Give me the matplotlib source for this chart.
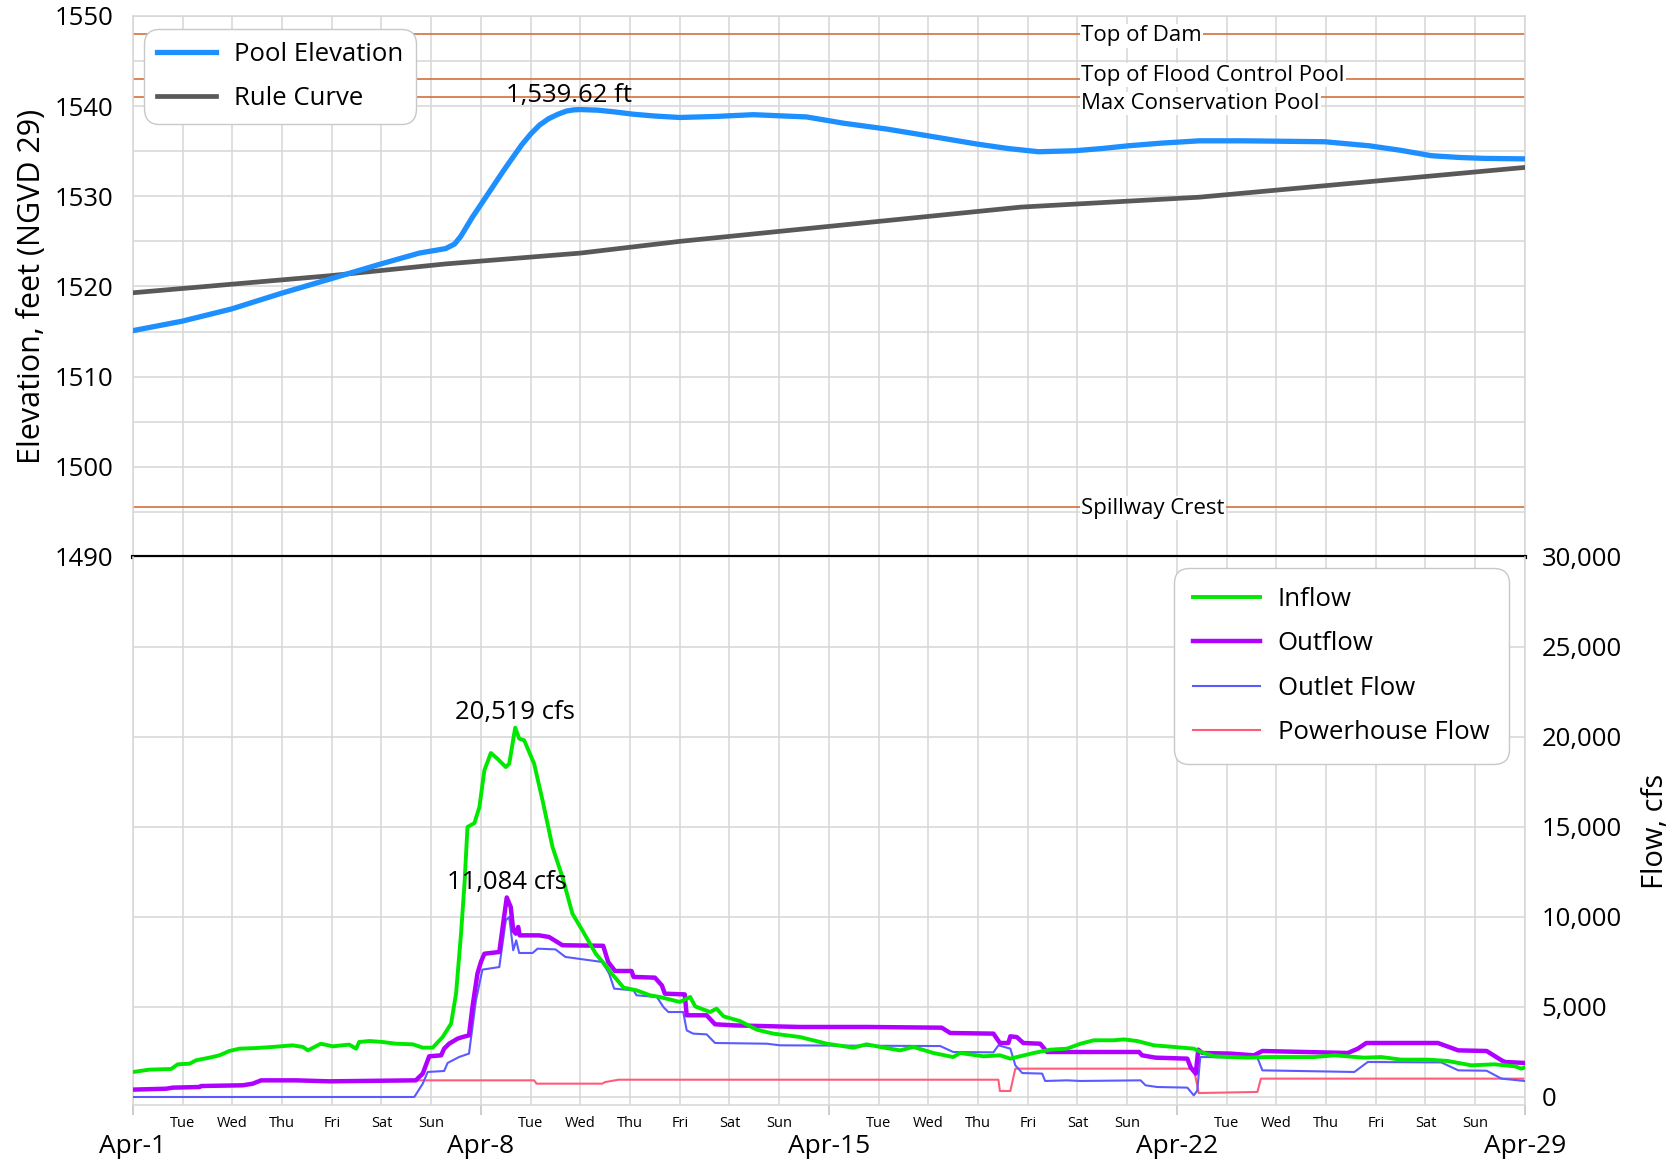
import numpy as np
import pandas as pd
import matplotlib
matplotlib.use("Agg")
import matplotlib.pyplot as plt
import matplotlib.dates as mdates
from matplotlib.ticker import FuncFormatter, MultipleLocator

plt.rcParams['font.family'] = ['Open Sans', 'DejaVu Sans']

Start = pd.Timestamp('2019-04-01')

# %% elevation data (days after Apr-1, feet NGVD 29)
PoolDays = [0, 0.99, 1.98, 2.99, 3.98, 4.99, 5.76, 6.29, 6.47, 6.6, 6.83, 7.05, 7.28, 7.45,
            7.64, 7.82, 8.0, 8.18, 8.36, 8.55, 8.72, 8.86, 9.0, 9.35, 9.7, 10.07, 10.5, 11.0,
            11.7, 12.48, 13.55, 14.3, 15.17, 16.0, 16.97, 17.6, 18.22, 18.94, 19.5, 20.02,
            20.7, 21.45, 22.35, 23.97, 24.87, 25.5, 26.12, 26.7, 27.2, 28.0]
PoolElev = [1515.1, 1516.15, 1517.5, 1519.25, 1520.85, 1522.5, 1523.7, 1524.2, 1524.7, 1525.6,
            1527.7, 1529.5, 1531.4, 1532.8, 1534.3, 1535.7, 1536.9, 1537.9, 1538.6, 1539.1,
            1539.45, 1539.58, 1539.62, 1539.55, 1539.35, 1539.1, 1538.9, 1538.74, 1538.85,
            1539.05, 1538.8, 1538.1, 1537.45, 1536.7, 1535.8, 1535.3, 1534.94, 1535.05, 1535.3,
            1535.6, 1535.9, 1536.15, 1536.15, 1536.05, 1535.6, 1535.1, 1534.5, 1534.3, 1534.2,
            1534.15]

RuleDays = [0, 3.98, 6.29, 9.0, 11.0, 17.86, 21.45, 28.0]
RuleElev = [1519.3, 1521.2, 1522.5, 1523.7, 1525.0, 1528.8, 1529.9, 1533.2]

LevelNames = ['Top of Dam', 'Top of Flood Control Pool', 'Max Conservation Pool', 'Spillway Crest']
LevelElev = [1548.0, 1543.0, 1541.0, 1495.5]

# %% flow data (days after Apr-1, cfs)
InflowDays = [0.0, 0.33, 0.77, 0.9, 1.14, 1.27, 1.54, 1.74, 1.94, 2.14, 2.48, 2.81, 3.21, 3.42,
              3.52, 3.78, 4.02, 4.35, 4.49, 4.55, 4.76, 5.02, 5.29, 5.63, 5.83, 6.03, 6.23, 6.4,
              6.5, 6.6, 6.67, 6.73, 6.87, 6.97, 7.07, 7.2, 7.33, 7.5, 7.57, 7.69, 7.77, 7.87,
              8.07, 8.24, 8.44, 8.64, 8.84, 9.04, 9.31, 9.45, 9.66, 9.87, 10.13, 10.4, 10.6,
              11.0, 11.21, 11.31, 11.61, 11.74, 11.88, 12.21, 12.55, 12.88, 13.42, 13.96, 14.49,
              14.76, 15.03, 15.43, 15.7, 16.1, 16.5, 16.64, 17.11, 17.44, 17.65, 18.12, 18.46,
              18.79, 19.06, 19.33, 19.73, 19.93, 20.2, 20.54, 20.94, 21.34, 21.48, 21.75, 22.42,
              22.82, 23.76, 24.17, 24.77, 25.11, 25.51, 26.05, 26.45, 26.92, 27.39, 27.8,
              27.93, 28.0]
Inflow = [1390, 1520, 1555, 1815, 1850, 2040, 2185, 2315, 2555, 2685, 2720, 2780, 2870, 2780,
          2590, 2960, 2815, 2910, 2685, 3055, 3110, 3055, 2960, 2925, 2740, 2740, 3330, 4075,
          5740, 9075, 11850, 15000, 15220, 16110, 18150, 19110, 18800, 18330, 18520, 20519,
          19910, 19815, 18520, 16480, 13890, 12220, 10190, 9260, 7960, 7500, 6760, 6075, 5925,
          5650, 5555, 5280, 5555, 5035, 4720, 4910, 4480, 4220, 3740, 3520, 3330, 2960, 2740,
          2925, 2780, 2590, 2780, 2445, 2220, 2445, 2260, 2315, 2130, 2445, 2630, 2685, 2960,
          3150, 3150, 3200, 3110, 2870, 2780, 2685, 2500, 2260, 2185, 2220, 2220, 2315, 2185,
          2220, 2075, 2075, 2000, 1760, 1815, 1705, 1575, 1650]

OutflowDays = [0.0, 0.67, 0.8, 1.34, 1.37, 2.21, 2.41, 2.58, 3.28, 3.95, 5.69, 5.83, 5.96, 6.2,
               6.26, 6.36, 6.53, 6.63, 6.76, 6.83, 6.93, 7.0, 7.07, 7.37, 7.42, 7.52, 7.6, 7.65,
               7.7, 7.75, 7.78, 8.17, 8.37, 8.64, 9.46, 9.56, 9.7, 10.03, 10.07, 10.5, 10.64,
               10.7, 11.1, 11.14, 11.54, 11.71, 12.08, 13.42, 14.76, 16.27, 16.44, 17.31, 17.44,
               17.61, 17.65, 17.78, 17.91, 18.25, 18.39, 19.06, 20.24, 20.3, 20.57, 21.21, 21.28,
               21.38, 21.43, 21.51, 22.08, 22.55, 22.72, 24.44, 24.64, 24.81, 26.25, 26.66,
               27.23, 27.53, 27.6, 28.0]
Outflow = [410, 460, 520, 555, 610, 650, 740, 925, 925, 870, 925, 1300, 2260, 2315, 2685, 2960,
           3240, 3330, 3425, 5000, 6850, 7500, 7960, 8055, 9075, 11084, 10555, 9260, 9075, 9445,
           8980, 8980, 8890, 8430, 8400, 7500, 7000, 7000, 6670, 6630, 6200, 5740, 5700, 4540,
           4540, 4040, 3980, 3890, 3890, 3850, 3555, 3520, 3000, 3000, 3370, 3330, 3000, 2960,
           2500, 2500, 2500, 2315, 2185, 2130, 1630, 1300, 2630, 2445, 2410, 2315, 2555, 2445,
           2685, 3000, 3000, 2590, 2555, 2040, 1945, 1890]

OutletDays = [0, 5.66, 5.83, 5.93, 6.26, 6.33, 6.56, 6.76, 6.9, 7.03, 7.37, 7.5, 7.57, 7.65,
              7.71, 7.77, 8.04, 8.14, 8.5, 8.7, 9.44, 9.58, 9.68, 10.07, 10.13, 10.54, 10.67,
              10.77, 11.07, 11.14, 11.27, 11.54, 11.71, 12.75, 13.02, 16.24, 16.5, 17.31, 17.41,
              17.65, 17.75, 17.89, 18.29, 18.35, 18.79, 19.06, 20.27, 20.37, 20.6, 21.21, 21.34,
              21.41, 21.47, 22.62, 22.72, 24.57, 24.84, 26.32, 26.66, 27.23, 27.53, 28.0]
OutletFlow = [0, 0, 740, 1390, 1445, 1890, 2220, 2410, 5370, 7075, 7220, 9815, 10000, 8150,
              8700, 8000, 8000, 8240, 8200, 7780, 7500, 6850, 6020, 5925, 5650, 5555, 5000,
              4720, 4720, 3700, 3520, 3480, 3000, 2960, 2870, 2830, 2500, 2480, 2870, 2685,
              1760, 1330, 1300, 890, 925, 890, 925, 650, 555, 520, 90, 350, 2220, 2185, 1480,
              1390, 1945, 1920, 1480, 1460, 1020, 890]

PowerDays = [0.0, 0.67, 0.8, 1.34, 1.37, 2.21, 2.41, 2.58, 3.28, 3.95, 5.69, 8.07, 8.12, 9.44,
             9.5, 9.77, 17.41, 17.44, 17.65, 17.75, 21.34, 21.44, 22.62, 22.69, 28.0]
PowerFlow = [410, 460, 520, 555, 610, 650, 740, 925, 925, 870, 925, 925, 740, 740, 830, 960,
             960, 333, 333, 1575, 1575, 220, 280, 1020, 1020]


def ToDates(days):
    return Start + pd.to_timedelta(np.array(days), unit='D')


# %%
fig = plt.figure(figsize=(16.72, 11.64), dpi=100)
ax1 = fig.add_axes([0.0795, 0.5215, 0.8325, 0.4648])
ax2 = fig.add_axes([0.0795, 0.0507, 0.8325, 0.4708], sharex=ax1)

GridColor = '#D6D6D6'
LevelColor = '#D4703C'

# top panel: elevations
for name, elev in zip(LevelNames, LevelElev):
    ax1.axhline(elev, color=LevelColor, lw=1.2, zorder=2)
rule, = ax1.plot(ToDates(RuleDays), RuleElev, color='#595959', lw=3.4, label='Rule Curve', zorder=4)
pool, = ax1.plot(ToDates(PoolDays), PoolElev, color='#1E8FFF', lw=3.8, label='Pool Elevation', zorder=5)

TextX = Start + pd.Timedelta(days=19.07)
TextY = [1547.8, 1543.45, 1540.3, 1495.4]
for name, ty in zip(LevelNames, TextY):
    ax1.text(TextX, ty, name, fontsize=16, ha='left', va='center', zorder=3,
             bbox=dict(facecolor='white', edgecolor='none', pad=1))

ax1.text(Start + pd.Timedelta(days=8.77), 1540.5, '1,539.62 ft', fontsize=18.5,
         ha='center', va='baseline', zorder=6)

ax1.set_ylim(1490, 1550)
ax1.yaxis.set_major_locator(MultipleLocator(10))
ax1.yaxis.set_minor_locator(MultipleLocator(5))
ax1.grid(which='both', color=GridColor, lw=1.1, zorder=0)
ax1.tick_params(axis='y', which='both', length=0, labelsize=18.5, pad=14)
ax1.tick_params(axis='x', which='both', length=0, labelbottom=False)
ax1.set_ylabel('Elevation, feet (NGVD 29)', fontsize=22)
ax1.yaxis.set_label_coords(-0.062, 0.5)
ax1.axhline(1490, color='black', lw=3, zorder=10, clip_on=False)

leg1 = ax1.legend(handles=[pool, rule], loc='upper left',
                  bbox_to_anchor=(0.008, 0.976), borderaxespad=0, fontsize=18.5,
                  handlelength=2.3, handletextpad=0.7, labelspacing=0.75, borderpad=0.5,
                  framealpha=1, edgecolor='#C8C8C8')
leg1.get_frame().set_boxstyle('round,pad=0,rounding_size=0.6')

# bottom panel: flows
power, = ax2.plot(ToDates(PowerDays), PowerFlow, color='#FF5C7A', lw=1.5, label='Powerhouse Flow', zorder=2)
outlet, = ax2.plot(ToDates(OutletDays), OutletFlow, color='#5A5AFF', lw=1.5, label='Outlet Flow', zorder=3)
outflow, = ax2.plot(ToDates(OutflowDays), Outflow, color='#B000FF', lw=3.2, label='Outflow', zorder=4)
inflow, = ax2.plot(ToDates(InflowDays), Inflow, color='#00E800', lw=2.8, label='Inflow', zorder=5)

ax2.text(Start + pd.Timedelta(days=7.69), 20980, '20,519 cfs', fontsize=18.5,
         ha='center', va='baseline', zorder=6)
ax2.text(Start + pd.Timedelta(days=7.53), 11540, '11,084 cfs', fontsize=18.5,
         ha='center', va='baseline', zorder=6)

ax2.set_ylim(-444, 30000)
ax2.yaxis.set_major_locator(MultipleLocator(5000))
ax2.yaxis.set_major_formatter(FuncFormatter(lambda v, p: f'{v:,.0f}'))
ax2.yaxis.tick_right()
ax2.yaxis.set_label_position('right')
ax2.set_ylabel('Flow, cfs', fontsize=21, labelpad=14)
ax2.grid(which='both', color=GridColor, lw=1.1, zorder=0)
ax2.tick_params(axis='y', length=0, labelsize=18.5, pad=12)

ax2.set_xlim(Start, Start + pd.Timedelta(days=28))
ax2.xaxis.set_major_locator(mdates.WeekdayLocator(byweekday=mdates.MO))
ax2.xaxis.set_major_formatter(FuncFormatter(
    lambda v, p: f'{mdates.num2date(v):%b}-{mdates.num2date(v).day}'))
ax2.xaxis.set_minor_locator(mdates.DayLocator())
ax2.xaxis.set_minor_formatter(FuncFormatter(lambda v, p: mdates.num2date(v).strftime('%a')))
ax2.tick_params(axis='x', which='minor', length=0, pad=8, labelsize=10.5)
ax2.tick_params(axis='x', which='major', length=7, width=1.1, color='#BFBFBF', pad=14,
                labelsize=19)

leg2 = ax2.legend(handles=[inflow, outflow, outlet, power], loc='upper right',
                  bbox_to_anchor=(0.9885, 0.98), borderaxespad=0, fontsize=18.5,
                  handlelength=2.6, handletextpad=0.7, labelspacing=0.75, borderpad=0.75,
                  framealpha=1, edgecolor='#C8C8C8')
leg2.get_frame().set_boxstyle('round,pad=0,rounding_size=0.6')

for ax in (ax1, ax2):
    for side in ax.spines:
        ax.spines[side].set_color(GridColor)
        ax.spines[side].set_linewidth(1.1)
ax1.spines['bottom'].set_visible(False)
ax2.spines['top'].set_visible(False)

fig.savefig('out.png', dpi=100)
